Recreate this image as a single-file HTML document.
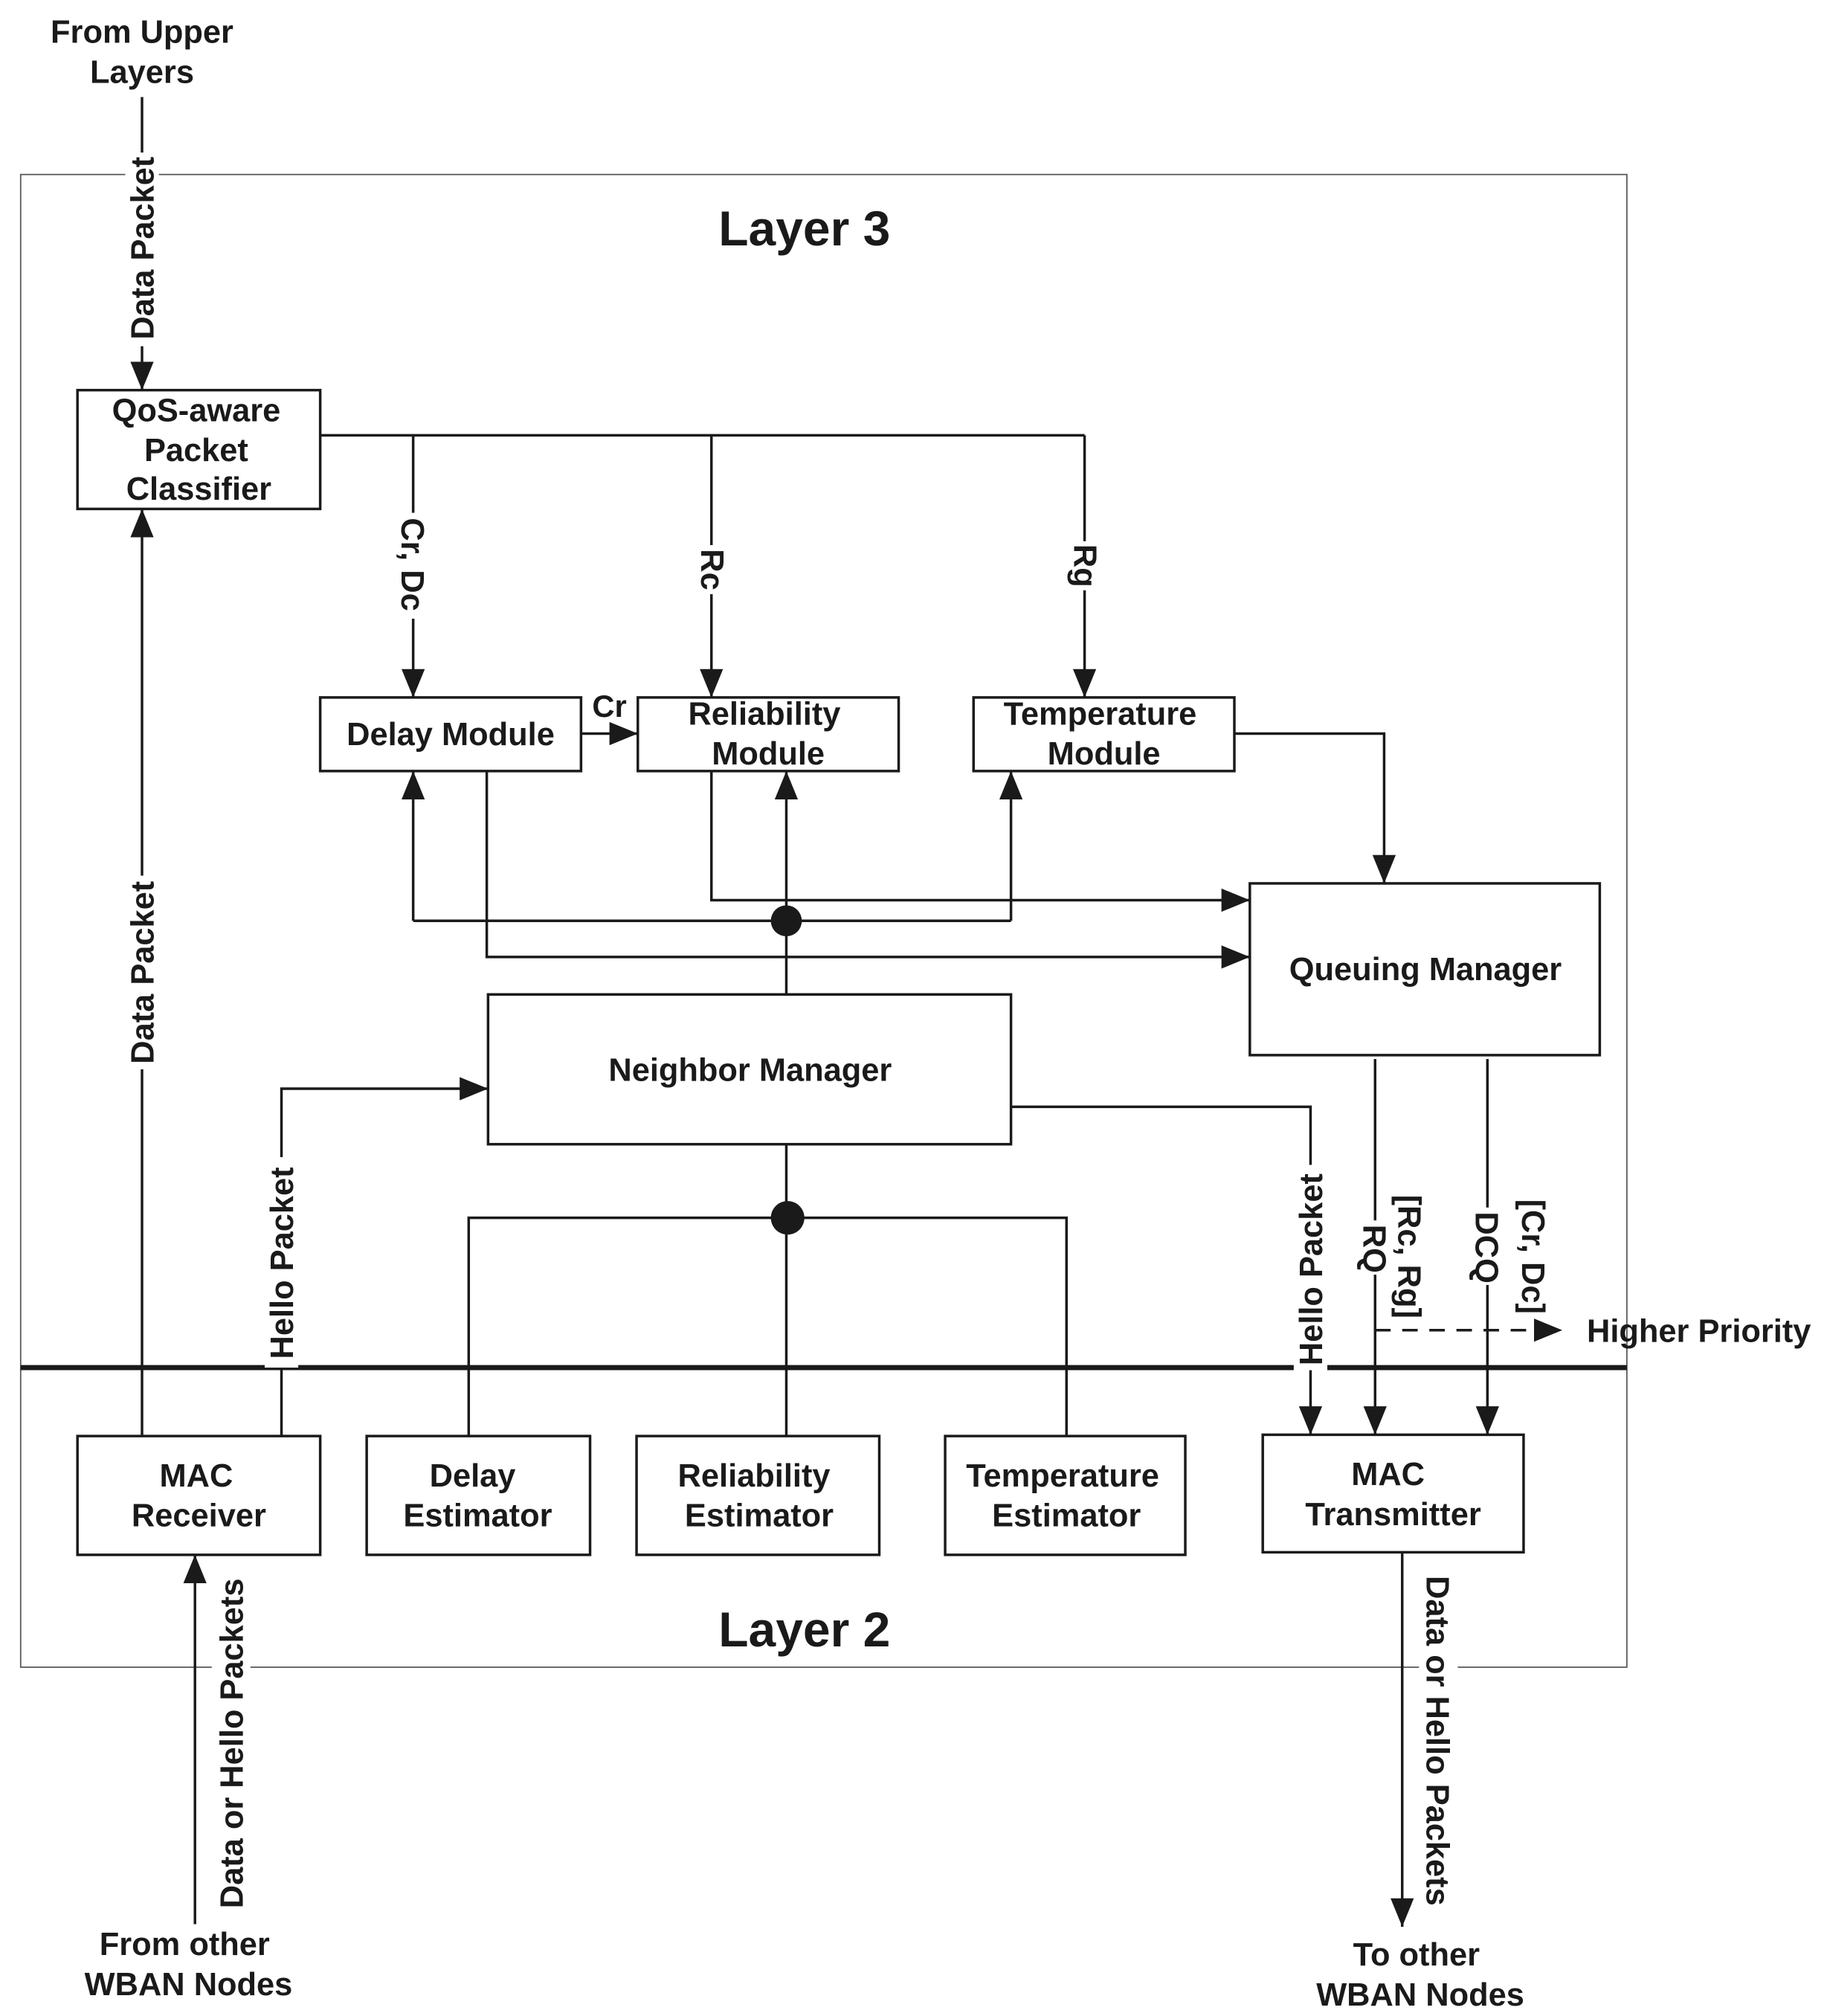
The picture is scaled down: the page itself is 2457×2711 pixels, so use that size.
<!DOCTYPE html>
<html><head><meta charset="utf-8"><style>
html,body{margin:0;padding:0;background:#fff;}
svg{display:block;}
text{font-family:"Liberation Sans",Arial,sans-serif;font-weight:bold;fill:#1a1a1a;}
</style></head><body>
<svg width="2457" height="2711" viewBox="0 0 1415 1561" xmlns="http://www.w3.org/2000/svg">
<defs>
<marker id="a" markerUnits="userSpaceOnUse" markerWidth="24" markerHeight="18" refX="22" refY="9" orient="auto">
<polygon points="0,0 22,9 0,18" fill="#1a1a1a"/></marker>
</defs>
<g fill="none" stroke="#1a1a1a" stroke-width="2">
<rect x="16" y="135" width="1244" height="1156" stroke="#555" stroke-width="1"/>
<line x1="16" y1="1059" x2="1260" y2="1059" stroke-width="4"/>
<rect x="60" y="302" width="188" height="92"/>
<rect x="248" y="540" width="202" height="57"/>
<rect x="494" y="540" width="202" height="57"/>
<rect x="754" y="540" width="202" height="57"/>
<rect x="968" y="684" width="271" height="133"/>
<rect x="378" y="770" width="405" height="116"/>
<rect x="60" y="1112" width="188" height="92"/>
<rect x="284" y="1112" width="173" height="92"/>
<rect x="493" y="1112" width="188" height="92"/>
<rect x="732" y="1112" width="186" height="92"/>
<rect x="978" y="1111" width="202" height="91"/>
<line x1="110" y1="75" x2="110" y2="302" marker-end="url(#a)"/>
<polyline points="248,337 840,337"/>
<line x1="320" y1="337" x2="320" y2="540" marker-end="url(#a)"/>
<line x1="551" y1="337" x2="551" y2="540" marker-end="url(#a)"/>
<line x1="840" y1="337" x2="840" y2="540" marker-end="url(#a)"/>
<line x1="450" y1="568" x2="494" y2="568" marker-end="url(#a)"/>
<polyline points="956,568 1072,568 1072,684" marker-end="url(#a)"/>
<polyline points="551,597 551,697 968,697" marker-end="url(#a)"/>
<polyline points="377,597 377,741 968,741" marker-end="url(#a)"/>
<line x1="320" y1="713" x2="783" y2="713"/>
<line x1="320" y1="713" x2="320" y2="597" marker-end="url(#a)"/>
<line x1="609" y1="770" x2="609" y2="597" marker-end="url(#a)"/>
<line x1="783" y1="713" x2="783" y2="597" marker-end="url(#a)"/>
<polyline points="218,1112 218,843 378,843" marker-end="url(#a)"/>
<polyline points="783,857 1015,857 1015,1111" marker-end="url(#a)"/>
<line x1="609" y1="886" x2="609" y2="1112"/>
<polyline points="363,1112 363,943 826,943 826,1112"/>
<line x1="110" y1="1112" x2="110" y2="394" marker-end="url(#a)"/>
<line x1="151" y1="1490" x2="151" y2="1204" marker-end="url(#a)"/>
<line x1="1065" y1="820" x2="1065" y2="1111" marker-end="url(#a)"/>
<line x1="1152" y1="820" x2="1152" y2="1111" marker-end="url(#a)"/>
<line x1="1065" y1="1030" x2="1210" y2="1030" stroke-dasharray="12,9" marker-end="url(#a)"/>
<line x1="1086" y1="1202" x2="1086" y2="1492" marker-end="url(#a)"/>
</g>
<circle cx="609" cy="713" r="12" fill="#1a1a1a"/>
<circle cx="610" cy="943" r="13" fill="#1a1a1a"/>
<g fill="#fff">
<rect x="97" y="118" width="26" height="150"/>
<rect x="97" y="678" width="26" height="150"/>
<rect x="305" y="397" width="30" height="82"/>
<rect x="539" y="422" width="24" height="38"/>
<rect x="828" y="419" width="24" height="38"/>
<rect x="205" y="896" width="26" height="163"/>
<rect x="1002" y="902" width="26" height="159"/>
<rect x="1052" y="945" width="26" height="42"/>
<rect x="1139" y="935" width="26" height="60"/>
<rect x="1099" y="1210" width="30" height="278"/>
<rect x="164" y="1214" width="30" height="274"/>
</g>
<g font-size="25" text-anchor="middle">
<text x="110" y="33">From Upper</text>
<text x="110" y="64">Layers</text>
<text x="623" y="190" font-size="38">Layer 3</text>
<text x="623" y="1275" font-size="38">Layer 2</text>
<text x="152" y="326">QoS-aware</text>
<text x="152" y="357">Packet</text>
<text x="154" y="387">Classifier</text>
<text x="349" y="577">Delay Module</text>
<text x="472" y="555" font-size="24">Cr</text>
<text x="592" y="561">Reliability</text>
<text x="595" y="592">Module</text>
<text x="852" y="561">Temperature</text>
<text x="855" y="592">Module</text>
<text x="1104" y="759">Queuing Manager</text>
<text x="581" y="837">Neighbor Manager</text>
<text x="152" y="1151">MAC</text>
<text x="154" y="1182">Receiver</text>
<text x="366" y="1151">Delay</text>
<text x="370" y="1182">Estimator</text>
<text x="584" y="1151">Reliability</text>
<text x="588" y="1182">Estimator</text>
<text x="823" y="1151">Temperature</text>
<text x="826" y="1182">Estimator</text>
<text x="1075" y="1150">MAC</text>
<text x="1079" y="1181">Transmitter</text>
<text x="143" y="1514">From other</text>
<text x="146" y="1545">WBAN Nodes</text>
<text x="1097" y="1522">To other</text>
<text x="1100" y="1553">WBAN Nodes</text>
<text x="1229" y="1039" text-anchor="start">Higher Priority</text>
<text transform="translate(119,192) rotate(-90)">Data Packet</text>
<text transform="translate(119,753) rotate(-90)">Data Packet</text>
<text transform="translate(227,978) rotate(-90)">Hello Packet</text>
<text transform="translate(1024,983) rotate(-90)">Hello Packet</text>
<text transform="translate(188,1350) rotate(-90)">Data or Hello Packets</text>
<text transform="translate(311,437) rotate(90)">Cr, Dc</text>
<text transform="translate(543,441) rotate(90)" font-weight="normal">Rc</text>
<text transform="translate(832,438) rotate(90)" font-weight="normal">Rg</text>
<text transform="translate(1056,967) rotate(90)">RQ</text>
<text transform="translate(1083,973) rotate(90)">[Rc, Rg]</text>
<text transform="translate(1143,966) rotate(90)">DCQ</text>
<text transform="translate(1179,973) rotate(90)">[Cr, Dc]</text>
<text transform="translate(1105,1348) rotate(90)">Data or Hello Packets</text>
</g>
</svg>
</body></html>
